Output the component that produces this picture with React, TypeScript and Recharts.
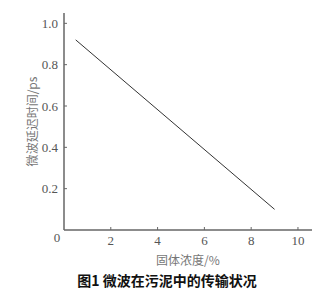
import { Label, Line, LineChart, XAxis, YAxis } from "recharts";

const concentration = [0.5, 9.0];
const delayTime = [0.92, 0.1];
const xTicks = [0, 2, 4, 6, 8, 10];
const yTicks = [0.2, 0.4, 0.6, 0.8, 1.0];

const data = concentration.map((c, i) => ({ c, t: delayTime[i] }));

const axisGray = "#666";
const textGray = "#555";
const tickFont = { fontFamily: "Liberation Serif, DejaVu Serif, serif", fontSize: 13, fill: textGray };

function XTick({ x, y, payload }: any) {
    const v = payload.value as number;
    const isZero = v === 0;
    return (
        <g>
            {!isZero && <line x1={x} x2={x} y1={y} y2={y - 3} stroke={axisGray} strokeWidth={1} />}
            <text x={isZero ? x - 7 : x} y={isZero ? y + 12 : y + 15} textAnchor="middle" style={tickFont}>
                {v}
            </text>
        </g>
    );
}

function YTick({ x, y, payload }: any) {
    const v = payload.value as number;
    return (
        <g>
            <line x1={x} x2={x + 3} y1={y} y2={y} stroke={axisGray} strokeWidth={1} />
            <text x={x - 6} y={y + 4.5} textAnchor="end" style={tickFont}>
                {v.toFixed(1)}
            </text>
        </g>
    );
}

export default function App() {
    return (
        <div style={{ position: "absolute", left: 0, top: 0, width: 325, height: 297, background: "#fff" }}>
            <LineChart width={325} height={297} data={data} margin={{ top: 13, right: 13, left: 0, bottom: 37 }}>
                <XAxis
                    dataKey="c"
                    type="number"
                    domain={[0, 10.6]}
                    ticks={xTicks}
                    allowDataOverflow
                    stroke={axisGray}
                    strokeWidth={1.5}
                    tickLine={false}
                    tickSize={0}
                    tickMargin={0}
                    tick={<XTick />}
                    height={30}
                    interval={0}
                >
                    <Label
                        value="固体浓度/%"
                        position="insideBottom"
                        offset={-5}
                        style={{ fontFamily: "'Noto Sans CJK SC', serif", fontSize: 12, fill: "#777" }}
                    />
                </XAxis>
                <YAxis
                    dataKey="t"
                    type="number"
                    domain={[0, 1.05]}
                    ticks={yTicks}
                    allowDataOverflow
                    stroke={axisGray}
                    strokeWidth={1.5}
                    tickLine={false}
                    tickSize={0}
                    tickMargin={0}
                    tick={<YTick />}
                    width={64}
                    interval={0}
                >
                    <Label
                        value="微波延迟时间/ps"
                        angle={-90}
                        position="insideLeft"
                        offset={33}
                        style={{ textAnchor: "middle", fontFamily: "'Noto Sans CJK SC', serif", fontSize: 12, fill: "#777" }}
                    />
                </YAxis>
                <Line
                    dataKey="t"
                    stroke="#333"
                    strokeWidth={1}
                    dot={false}
                    activeDot={false}
                    isAnimationActive={false}
                />
            </LineChart>
            <div
                style={{
                    position: "absolute",
                    left: 0,
                    width: 334,
                    top: 270,
                    textAlign: "center",
                    fontFamily: "'Noto Sans CJK SC', sans-serif",
                    fontWeight: 700,
                    fontSize: 14,
                    color: "#111",
                    whiteSpace: "nowrap",
                }}
            >
                图1 微波在污泥中的传输状况
            </div>
        </div>
    );
}
